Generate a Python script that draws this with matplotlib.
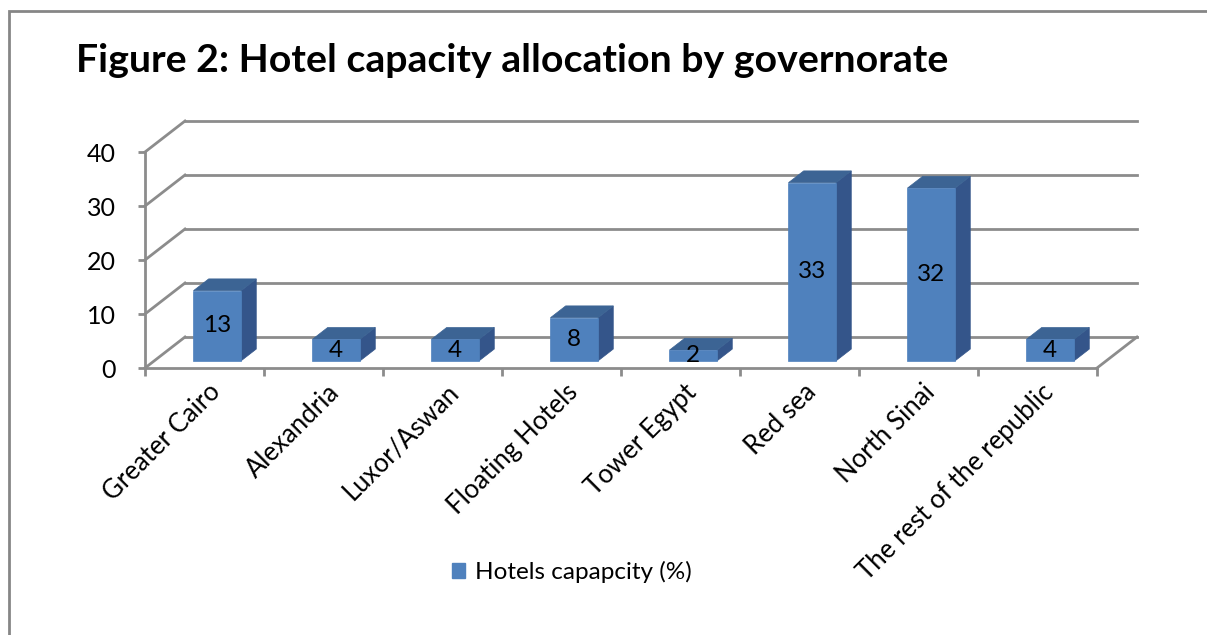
import matplotlib.pyplot as plt
from matplotlib.patches import Polygon, Rectangle, Patch

# =============================
# Data
# =============================
categories = ["Greater Cairo", "Alexandria", "Luxor/Aswan", "Floating Hotels",
              "Tower Egypt", "Red sea", "North Sinai", "The rest of the republic"]
capacity = [13, 4, 4, 8, 2, 33, 32, 4]
y_ticks = [0, 10, 20, 30, 40]
series_name = "Hotels capapcity (%)"
title = "Figure 2: Hotel capacity allocation by governorate"

# =============================
# Style
# =============================
plt.rcParams["font.family"] = ["Lato", "DejaVu Sans"]
GRID = "#8c8c8c"
FRONT = "#4f81bd"
TOP = "#3c6494"
SIDE = "#34558a"

W, H = 1207, 635
fig = plt.figure(figsize=(W / 100, H / 100), dpi=100)

# front plane of the 3D box: x in categories, y in values
ax = fig.add_axes([145 / W, (H - 368) / H, 952 / W, 216 / H])
ax.set_xlim(0, len(categories))
ax.set_ylim(0, 40)

# oblique depth offset (full depth) in data units
DX = 40 / 119
DY = 31 / 5.4


def proj(x, v, t):
    return (x + DX * t, v + DY * t)


n = len(categories)

# back wall gridlines + left wall diagonals
for v in y_ticks:
    ax.plot(*zip(proj(0, v, 1), proj(n, v, 1)), color=GRID, lw=2, zorder=1, clip_on=False)
    ax.plot(*zip(proj(0, v, 0), proj(0, v, 1)), color=GRID, lw=2, zorder=1, clip_on=False)
# right floor edge
ax.plot(*zip(proj(n, 0, 0), proj(n, 0, 1)), color=GRID, lw=2, zorder=1, clip_on=False)

# =============================
# Bars
# =============================
x0_off, x1_off = 0.33, 0.73
t0, t1 = 0.23, 0.61
for k, v in enumerate(capacity):
    x0, x1 = k + x0_off, k + x1_off
    side = [proj(x1, 0, t0), proj(x1, 0, t1), proj(x1, v, t1), proj(x1, v, t0)]
    top = [proj(x0, v, t0), proj(x1, v, t0), proj(x1, v, t1), proj(x0, v, t1)]
    front = [proj(x0, 0, t0), proj(x1, 0, t0), proj(x1, v, t0), proj(x0, v, t0)]
    for pts, c in [(side, SIDE), (top, TOP), (front, FRONT)]:
        ax.add_patch(Polygon(pts, closed=True, facecolor=c, edgecolor=c,
                             lw=0.5, zorder=3, clip_on=False))
    cx, cy = proj((x0 + x1) / 2, v / 2, t0)
    ax.text(cx, cy, str(v), ha="center", va="center", fontsize=17.5, zorder=4)

# =============================
# Axes
# =============================
for s in ["top", "right"]:
    ax.spines[s].set_visible(False)
for s in ["left", "bottom"]:
    ax.spines[s].set_color(GRID)
    ax.spines[s].set_linewidth(2)
ax.set_facecolor("none")
ax.set_yticks(y_ticks)
ax.set_xticks(range(n + 1))
ax.set_xticklabels([])
ax.tick_params(axis="y", colors=GRID, length=5, width=2, pad=16, labelsize=18, labelcolor="black")
ax.tick_params(axis="x", colors=GRID, length=6, width=2)

for k, name in enumerate(categories):
    ax.text(k + 0.53, -2.1, name, rotation=45, rotation_mode="anchor",
            ha="right", va="top", fontsize=18.5, clip_on=False)

# title
fig.text(76 / W, 1 - 60 / H, title, fontsize=28.3, fontweight="bold", ha="left", va="center")

# legend
fig.legend(handles=[Patch(facecolor=FRONT, edgecolor=FRONT)], labels=[series_name],
           loc="center left", bbox_to_anchor=(430 / W, 1 - 572 / H), frameon=False,
           fontsize=17.5, handlelength=0.55, handleheight=0.55, handletextpad=0.4)

# chart border (cropped on right and bottom)
fig.patches.append(Rectangle((9 / W, -0.1), 1.2, 1 - 11 / H + 0.1, transform=fig.transFigure,
                             fill=False, edgecolor="#868686", lw=2))

fig.savefig("out.png", dpi=100)
